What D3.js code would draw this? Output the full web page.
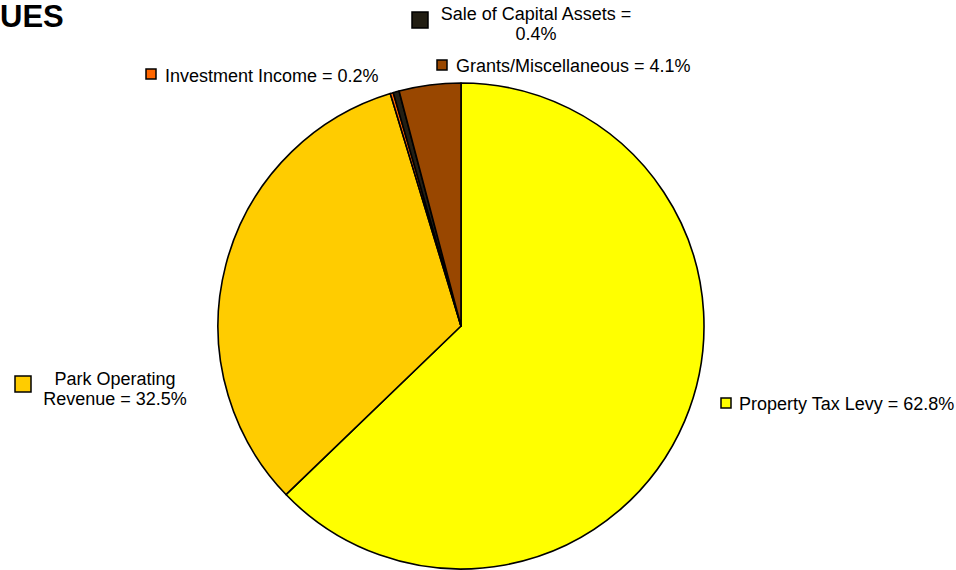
<!DOCTYPE html>
<html>
<head>
<meta charset="utf-8">
<script src="https://cdn.jsdelivr.net/npm/d3@7"></script>
<style>
  html, body { margin: 0; padding: 0; background: #fff; }
  svg { display: block; font-family: Arial, "Liberation Sans", sans-serif; }
</style>
</head>
<body>
<svg id="chart" width="956" height="570"></svg>
<script>
// Revenue sources, in drawing order clockwise from 12 o'clock
const categories = ["Property Tax Levy", "Park Operating Revenue", "Investment Income", "Sale of Capital Assets", "Grants/Miscellaneous"];
const values = [62.8, 32.5, 0.2, 0.4, 4.1];
const colors = ["#FFFF00", "#FFCC00", "#FF6600", "#231F14", "#994700"];
// label lines per category
const labelLines = [
  ["Property Tax Levy = 62.8%"],
  ["Park Operating", "Revenue = 32.5%"],
  ["Investment Income = 0.2%"],
  ["Sale of Capital Assets =", "0.4%"],
  ["Grants/Miscellaneous = 4.1%"]
];

const svg = d3.select("#chart");
const cx = 461, cy = 326, r = 243;

// title tail visible at the top-left corner
svg.append("text")
  .attr("x", 0).attr("y", 27)
  .attr("text-anchor", "start")
  .attr("font-size", 31).attr("font-weight", "bold")
  .attr("fill", "#000")
  .text("UES");

const pie = d3.pie().sort(null).value(d => d)(values);
const arc = d3.arc().innerRadius(0).outerRadius(r);

const g = svg.append("g").attr("transform", `translate(${cx},${cy})`);
g.selectAll("path.slice")
  .data(pie)
  .join("path")
  .attr("class", "slice")
  .attr("d", arc)
  .attr("fill", (d, i) => colors[i])
  .attr("stroke", "#000")
  .attr("stroke-width", 1.6)
  .attr("stroke-linejoin", "round");

// legend-style labels placed around the pie
const labelPos = [
  { mx: 721, my: 398, ms: 10, tx: 739, ty: 410, anchor: "start" },
  { mx: 15, my: 376, ms: 16, tx: 115, ty: 385, anchor: "middle" },
  { mx: 146, my: 69, ms: 10, tx: 165, ty: 82, anchor: "start" },
  { mx: 412, my: 12, ms: 16, tx: 536, ty: 20, anchor: "middle" },
  { mx: 437, my: 60, ms: 10, tx: 456, ty: 72, anchor: "start" }
];

const lg = svg.append("g");
categories.forEach((c, i) => {
  const p = labelPos[i];
  lg.append("rect")
    .attr("x", p.mx).attr("y", p.my)
    .attr("width", p.ms).attr("height", p.ms)
    .attr("fill", colors[i])
    .attr("stroke", "#000").attr("stroke-width", 1.5);
  const t = lg.append("text")
    .attr("x", p.tx).attr("y", p.ty)
    .attr("text-anchor", p.anchor)
    .attr("font-size", 18)
    .attr("fill", "#000");
  labelLines[i].forEach((line, j) => {
    t.append("tspan").attr("x", p.tx).attr("dy", j === 0 ? 0 : 20).text(line);
  });
});
</script>
</body>
</html>
